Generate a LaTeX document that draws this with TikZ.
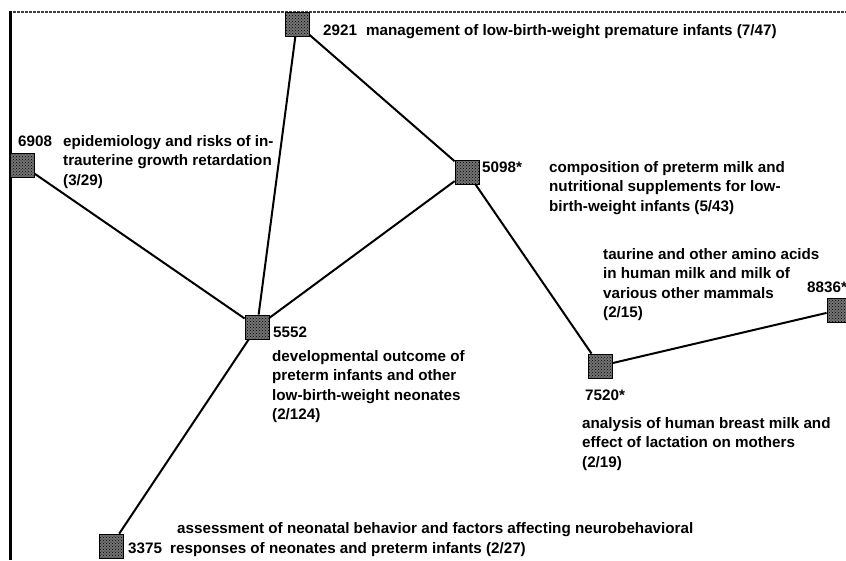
\documentclass[tikz,border=0pt]{standalone}
\usepackage{fontspec}
\setmainfont{Liberation Sans}
\usetikzlibrary{patterns}

\begin{document}
\begin{tikzpicture}[x=1pt, y=-1pt,
  topic/.style={draw=black, line width=0.8pt, minimum width=24pt, minimum height=24pt,
                inner sep=0pt, preaction={fill=black!55}, pattern=crosshatch dots, pattern color=black},
  lbl/.style={font=\fontsize{15.2}{19.5}\selectfont\bfseries, inner sep=0pt, anchor=base west, align=left},
  link/.style={line width=2pt}
]
\useasboundingbox (0,0) rectangle (846,560);

% frame
\draw[line width=2.2pt, black!75, dash pattern=on 3pt off 1pt] (9,12) -- (846,12);
\draw[line width=3pt] (10,11) -- (10,560);

% topics
\node[topic] (s2921) at (297,24) {};
\node[topic] (s6908) at (22,165) {};
\node[topic] (s5098) at (467,172) {};
\node[topic] (s5552) at (257,327) {};
\node[topic] (s7520) at (600,366) {};
\node[topic] (s8836) at (839,310) {};
\node[topic] (s3375) at (111,546) {};

% labels (base = last line)
\node[lbl] (n2921) at (323,35) {2921\hspace{0.6em}management of low-birth-weight premature infants (7/47)};
\node[lbl] (n6908) at (18,146) {6908};
\node[lbl] (d6908) at (63,185) {epidemiology and risks of in-\\trauterine growth retardation\\(3/29)};
\node[lbl] (n5098) at (482,172) {5098*};
\node[lbl] (d5098) at (549,211) {composition of preterm milk and\\nutritional supplements for low-\\birth-weight infants (5/43)};
\node[lbl] (d8836) at (603,317.5) {taurine and other amino acids\\in human milk and milk of\\various other mammals\\(2/15)};
\node[lbl] (n8836) at (807,292) {8836*};
\node[lbl] (n5552) at (273,337) {5552};
\node[lbl] (d5552) at (272,419.5) {developmental outcome of\\preterm infants and other\\low-birth-weight neonates\\(2/124)};
\node[lbl] (n7520) at (585,400) {7520*};
\node[lbl] (d7520) at (582,467) {analysis of human breast milk and\\effect of lactation on mothers\\(2/19)};
\node[lbl] (n3375) at (128,553) {3375};
\node[lbl] (d3375) at (170,553) {\hspace*{7pt}assessment of neonatal behavior and factors affecting neurobehavioral\\responses of neonates and preterm infants (2/27)};

% links
\draw[link] (s2921) -- (s5552);
\draw[link] (s2921) -- (s5098);
\draw[link] (s6908) -- (s5552);
\draw[link] (s5098) -- (s5552);
\draw[link] (s5098) -- (s7520);
\draw[link] (s7520) -- (s8836);
\draw[link] (s5552) -- (s3375);
\end{tikzpicture}
\end{document}
